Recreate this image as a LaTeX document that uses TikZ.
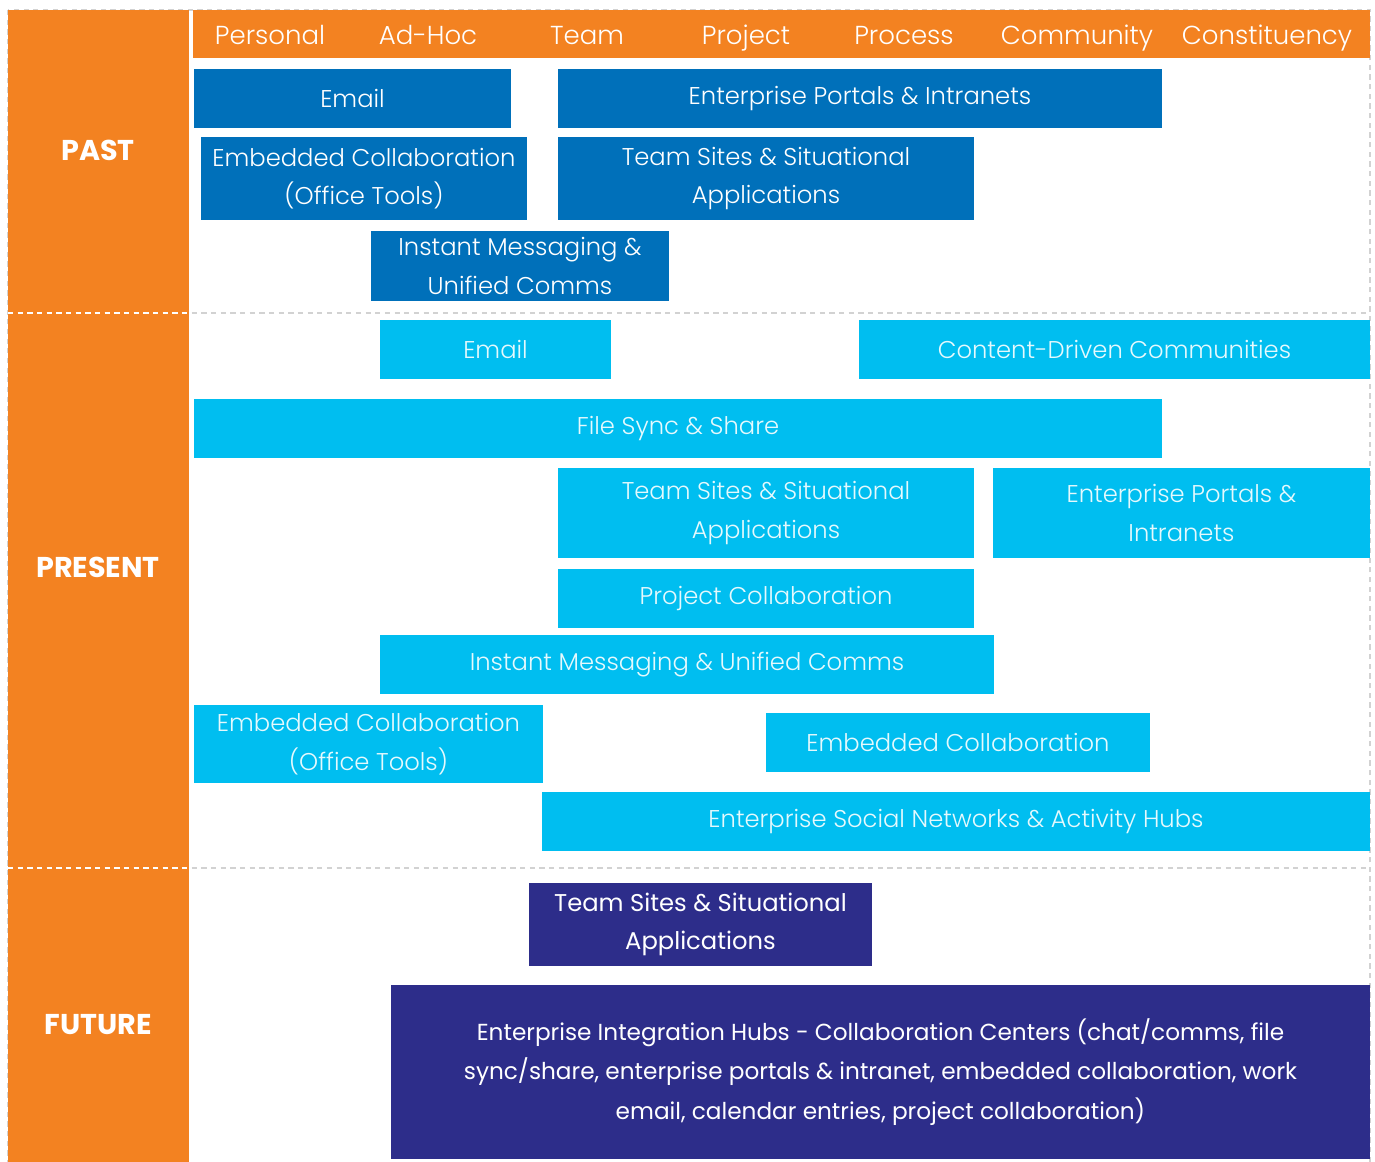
\documentclass[tikz,border=0pt]{standalone}
\usepackage{fontspec}
\setmainfont{Poppins}
\IfFontExistsTF{Poppins Light}{\newfontfamily\thinfont{Poppins Light}}{\newfontfamily\thinfont{Poppins}}
\usepackage{xcolor}
\usepackage{tikz}
\usetikzlibrary{positioning}
\definecolor{eraorange}{RGB}{243, 130, 33}
\definecolor{pastblue}{RGB}{0, 112, 186}
\definecolor{presentcyan}{RGB}{0, 190, 240}
\definecolor{futurenavy}{RGB}{45, 45, 138}
\definecolor{gridgray}{RGB}{210, 210, 210}

\begin{document}
\begin{tikzpicture}[
    x=0.02cm, y=-0.02cm,
    era/.style={text=white, font=\bfseries\fontsize{16.3}{18}\selectfont},
    head/.style={text=white, anchor=base, font=\thinfont\fontsize{14.8}{17}\selectfont},
    tool/.style={rectangle, inner sep=0pt, align=center, text=white,
                 font=\thinfont\fontsize{13.8}{22}\selectfont},
    boxsize/.style 2 args={minimum width=#1*0.02cm, minimum height=#2*0.02cm},
    past/.style={tool, fill=pastblue},
    present/.style={tool, fill=presentcyan, text=white!90!presentcyan},
    future/.style={tool, fill=futurenavy, font=\fontsize{13.8}{22}\selectfont},
    divider/.style={gridgray, line width=1.2pt, dash pattern=on 3pt off 2.5pt}
]
\useasboundingbox (0,0) rectangle (1375,1162);

% Frame, era column and header
\draw[divider] (8,10) rectangle (1370,1166);
\fill[eraorange] (8,10) rectangle (189,1162);
\fill[eraorange] (193,10) rectangle (1370,58);

\node[era] (past) at (98,150) {PAST};
\node[era] (present) at (98,567) {PRESENT};
\node[era] (future) at (98,1025) {FUTURE};

\node[head] (personal) at (270,45) {Personal};
\node[head] (adhoc) at (428,45) {Ad-Hoc};
\node[head] (team) at (587,45) {Team};
\node[head] (project) at (746,45) {Project};
\node[head] (process) at (904,45) {Process};
\node[head] (community) at (1077,45) {Community};
\node[head] (constituency) at (1267,45) {Constituency};

% Past
\node[past, boxsize={317}{59}] (pemail) at (352.5,98.5) {Email};
\node[past, boxsize={604}{59}] (pportal) at (860,98.5) {Enterprise Portals \& Intranets};
\node[past, boxsize={326}{83}] (pembed) at (364,178.5) {Embedded Collaboration\\(Office Tools)};
\node[past, boxsize={416}{83}] (pteam) at (766,178.5) {Team Sites \& Situational\\Applications};
\node[past, boxsize={298}{70}] (pim) at (520,266) {Instant Messaging \&\\Unified Comms};

% Present
\node[present, boxsize={231}{59}] (nemail) at (495.5,349.5) {Email};
\node[present, boxsize={511}{59}] (ncomm) at (1114.5,349.5) {Content-Driven Communities};
\node[present, boxsize={968}{59}] (nsync) at (678,428.5) {File Sync \& Share};
\node[present, boxsize={416}{90}] (nteam) at (766,513) {Team Sites \& Situational\\Applications};
\node[present, boxsize={377}{90}] (nportal) at (1181.5,513) {Enterprise Portals \&\\Intranets};
\node[present, boxsize={416}{59}] (nproject) at (766,598.5) {Project Collaboration};
\node[present, boxsize={614}{59}] (nim) at (687,664.5) {Instant Messaging \& Unified Comms};
\node[present, boxsize={349}{78}] (nembed) at (368.5,744) {Embedded Collaboration\\(Office Tools)};
\node[present, boxsize={384}{59}] (nembedb) at (958,742.5) {Embedded Collaboration};
\node[present, boxsize={828}{59}] (nsocial) at (956,821.5) {Enterprise Social Networks \& Activity Hubs};

% Future
\node[future, boxsize={343}{83}] (fteam) at (700.5,924.5) {Team Sites \& Situational\\Applications};
\node[future, boxsize={979}{174}, font=\fontsize{13.2}{22.5}\selectfont] (fhub) at (880.5,1072)
    {Enterprise Integration Hubs - Collaboration Centers (chat/comms, file\\
     sync/share, enterprise portals \& intranet, embedded collaboration, work\\
     email, calendar entries, project collaboration)};

% Era dividers
\draw[divider] (8,313) -- (1370,313);
\draw[divider] (8,868) -- (1370,868);
\draw[divider, white] (8,313) -- (189,313);
\draw[divider, white] (8,868) -- (189,868);

\end{tikzpicture}
\end{document}
